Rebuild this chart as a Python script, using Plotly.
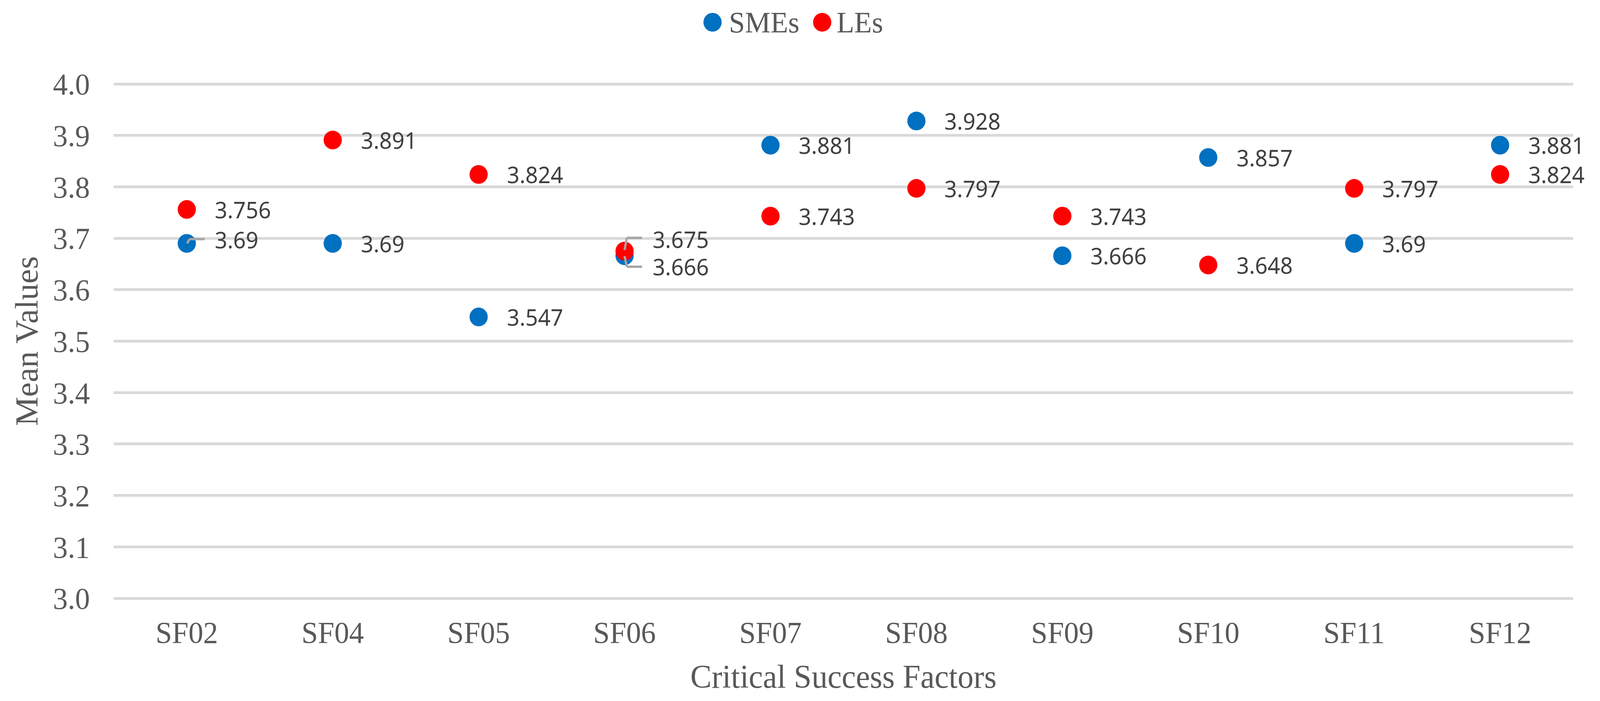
import plotly.graph_objects as go

categories = ["SF02", "SF04", "SF05", "SF06", "SF07", "SF08", "SF09", "SF10", "SF11", "SF12"]
smes = [3.69, 3.69, 3.547, 3.666, 3.881, 3.928, 3.666, 3.857, 3.69, 3.881]
les = [3.756, 3.891, 3.824, 3.675, 3.743, 3.797, 3.743, 3.648, 3.797, 3.824]
y_ticks = [3.0, 3.1, 3.2, 3.3, 3.4, 3.5, 3.6, 3.7, 3.8, 3.9, 4.0]

W, H = 4217, 1795
# plot area (pixels) where 3.0 .. 4.0 maps to 1532 .. 215
PL, PR, PT, PB = 300, 4146, 215, 1532
PAD = 5  # extra pixels so gridlines at 3.0 and 4.0 are drawn
Y0, Y1 = 3.0, 4.0
UNIT = (Y1 - Y0) / (PB - PT)  # value per pixel
ML, MR, MT, MB = PL, W - PR, PT - PAD, H - PB - PAD
PW = PR - PL
PH = (PB - PT) + 2 * PAD
YR0, YR1 = Y0 - PAD * UNIT, Y1 + PAD * UNIT

BLUE = "#0070C0"
RED = "#FF0000"
AXIS_TXT = "#595959"
LBL_TXT = "#404040"
SERIF = "Liberation Serif, Times New Roman, serif"
SANS = "Noto Sans, Open Sans, sans-serif"


def dx(px):
    return px * len(categories) / PW


def dy(px):
    return px * UNIT


def ypaper(py):
    return (H - MB - py) / PH


fig = go.Figure()
fig.add_trace(go.Scatter(x=categories, y=smes, mode="markers", name="SMEs",
                         marker=dict(color=BLUE, size=48), showlegend=False))
fig.add_trace(go.Scatter(x=categories, y=les, mode="markers", name="LEs",
                         marker=dict(color=RED, size=48), showlegend=False))

# label offsets (pixel) for crowded points
yshift_smes = {0: 10, 3: -28}
yshift_les = {3: 31}

annotations = []
for i, c in enumerate(categories):
    for vals, shifts in ((smes, yshift_smes), (les, yshift_les)):
        annotations.append(dict(
            x=c, y=vals[i], xref="x", yref="y", text=f"{vals[i]:g}", showarrow=False,
            xanchor="left", yanchor="middle", xshift=72, yshift=shifts.get(i, 0),
            font=dict(family=SANS, size=58, color=LBL_TXT)))

# leader lines for shifted labels
shapes = []
leaders = [(0, smes[0], [(1, 0), (7, 11), (47, 11)]),
           (3, les[3], [(0, 3), (6, 34), (46, 34)]),
           (3, smes[3], [(0, -1), (6, -28), (46, -28)])]
for idx, v, pts in leaders:
    for (ax, ay), (bx, by) in zip(pts[:-1], pts[1:]):
        shapes.append(dict(type="line", xref="x", yref="y",
                           x0=idx + dx(ax), y0=v + dy(ay), x1=idx + dx(bx), y1=v + dy(by),
                           line=dict(color="#A6A6A6", width=6), layer="above"))

# legend drawn with shapes + text so the markers keep their size
legend_items = [("SMEs", BLUE, 1878, 1919), ("LEs", RED, 2167, 2203)]
LEG_Y = 57
for name, col, mx, tx in legend_items:
    shapes.append(dict(type="circle", xref="paper", yref="paper",
                       xsizemode="pixel", ysizemode="pixel",
                       xanchor=(mx - ML) / PW, yanchor=ypaper(LEG_Y),
                       x0=-24, x1=24, y0=-24, y1=24,
                       fillcolor=col, line=dict(width=0)))
    annotations.append(dict(x=(tx - ML) / PW, y=ypaper(LEG_Y), xref="paper", yref="paper",
                            text=name, showarrow=False, xanchor="left", yanchor="middle",
                            font=dict(family=SERIF, size=76, color=AXIS_TXT)))

fig.update_layout(
    width=W, height=H,
    margin=dict(l=ML, r=MR, t=MT, b=MB, autoexpand=False),
    paper_bgcolor="white", plot_bgcolor="white",
    showlegend=False,
    annotations=annotations, shapes=shapes,
    xaxis=dict(
        type="category", categoryorder="array", categoryarray=categories,
        range=[-0.5, len(categories) - 0.5],
        showgrid=False, zeroline=False, showline=False, ticks="",
        tickfont=dict(family=SERIF, size=78, color=AXIS_TXT),
        ticklabelstandoff=30,
        title=dict(text="Critical Success Factors", standoff=40,
                   font=dict(family=SERIF, size=84, color=AXIS_TXT)),
    ),
    yaxis=dict(
        range=[YR0, YR1], tickvals=y_ticks, ticktext=[f"{t:.1f}" for t in y_ticks],
        showgrid=True, gridcolor="#D9D9D9", gridwidth=6.5,
        zeroline=False, showline=False, ticks="",
        tickfont=dict(family=SERIF, size=78, color=AXIS_TXT),
        ticklabelstandoff=62,
        title=dict(text="Mean Values", standoff=12,
                   font=dict(family=SERIF, size=84, color=AXIS_TXT)),
    ),
)

post = """
document.body.style.margin = '0';
document.documentElement.style.overflow = 'hidden';
document.body.style.overflow = 'hidden';
var gd = document.getElementById('{plot_id}');
var iw = window.innerWidth, ih = window.innerHeight;
if (iw > 0 && ih > 0) {
  var sx = iw / %d, sy = ih / %d;
  gd.style.transformOrigin = '0 0';
  gd.style.transform = 'scale(' + sx + ',' + sy + ')';
}
""" % (W, H)

fig.write_html("out.html", post_script=post, config={"displayModeBar": False})
